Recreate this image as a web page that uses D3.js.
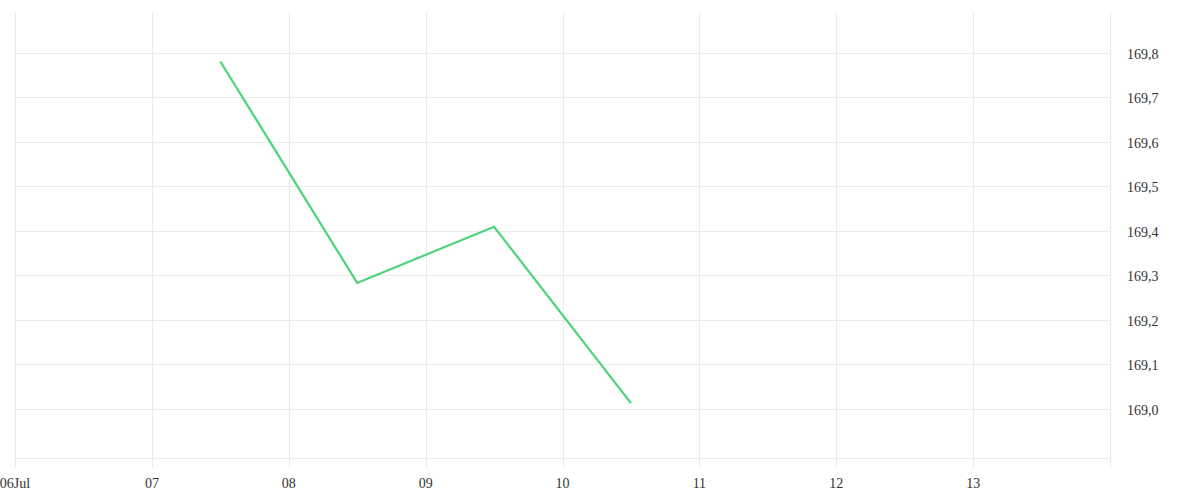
<!DOCTYPE html>
<html>

<head>
  <meta charset="UTF-8">
  <style>
    body { margin: 0; background: #fff; }
    svg { display: block; }
    text { font-family: "Liberation Serif", serif; font-size: 14px; fill: #333; }
  </style>
</head>

<body>
  <svg></svg>
  <script src="https://d3js.org/d3.v7.min.js"></script>

  <script>

    let width = 1200, height = 500;

    // series: dates and prices
    let dates = ["2023-07-07T12:00", "2023-07-08T12:00", "2023-07-09T12:00", "2023-07-10T12:00"];
    let prices = [169.78, 169.283, 169.409, 169.013];

    let xStart = "2023-07-06", xEnd = "2023-07-14";
    let yTicks = [169.0, 169.1, 169.2, 169.3, 169.4, 169.5, 169.6, 169.7, 169.8];
    let yMin = 168.89, yMax = 169.891;

    let parse = d3.isoParse;
    let data = dates.map((d, i) => ({ date: parse(d), value: prices[i] }));

    let plotL = 15, plotR = 1110, plotT = 12, plotB = 458;

    let svg = d3.select("svg")
      .attr("width", width)
      .attr("height", height);

    let x = d3.scaleTime()
      .domain([parse(xStart), parse(xEnd)])
      .range([plotL, plotR]);

    let y = d3.scaleLinear()
      .domain([yMin, yMax])
      .range([plotB, plotT]);

    let fmtY = v => d3.format(".1f")(v).replace(".", ",");
    let fmtX = d => d.getDate() == 6 ? d3.timeFormat("%dJul")(d) : d3.timeFormat("%d")(d);

    // horizontal grid
    svg.append("g")
      .selectAll("line")
      .data(yTicks.concat([yMin]))
      .enter()
      .append("line")
      .attr("x1", plotL)
      .attr("x2", plotR)
      .attr("y1", d => Math.round(y(d)) + 0.5)
      .attr("y2", d => Math.round(y(d)) + 0.5)
      .attr("stroke", "#ebebeb");

    // vertical grid + x ticks
    let days = d3.timeDay.range(parse(xStart), parse(xEnd));
    svg.append("g")
      .selectAll("line")
      .data(days)
      .enter()
      .append("line")
      .attr("x1", d => Math.round(x(d)) + 0.5)
      .attr("x2", d => Math.round(x(d)) + 0.5)
      .attr("y1", plotT)
      .attr("y2", plotB + 10)
      .attr("stroke", "#ebebeb");

    // right axis line
    svg.append("line")
      .attr("x1", plotR + 0.5)
      .attr("x2", plotR + 0.5)
      .attr("y1", plotT)
      .attr("y2", plotB + 10)
      .attr("stroke", "#ebebeb");

    // x labels
    svg.append("g")
      .selectAll("text")
      .data(days)
      .enter()
      .append("text")
      .attr("x", d => x(d))
      .attr("y", 488)
      .attr("text-anchor", "middle")
      .text(fmtX);

    // y labels
    svg.append("g")
      .selectAll("text")
      .data(yTicks)
      .enter()
      .append("text")
      .attr("x", 1127)
      .attr("y", d => y(d) + 6)
      .text(fmtY);

    let line = d3.line()
      .x(d => x(d.date))
      .y(d => y(d.value));

    svg.append("path")
      .datum(data)
      .attr("d", line)
      .attr("fill", "none")
      .attr("stroke", "#4cd47b")
      .attr("stroke-width", 2.2)
      .attr("stroke-linejoin", "miter");

  </script>

</body>

</html>
